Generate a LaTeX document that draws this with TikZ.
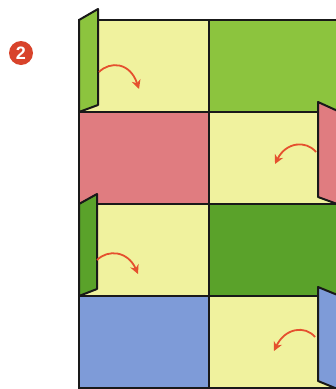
\documentclass[tikz,border=0pt]{standalone}
\usepackage{fontspec}
\setmainfont{Liberation Sans}
\usetikzlibrary{arrows.meta}
\definecolor{cyel}{HTML}{F0F29E}
\definecolor{clime}{HTML}{8CC43E}
\definecolor{cpink}{HTML}{E07C80}
\definecolor{cdgreen}{HTML}{5AA22A}
\definecolor{cblue}{HTML}{7E9BD8}
\definecolor{carrow}{HTML}{E5502E}
\definecolor{cbadge}{HTML}{D8432B}
\tikzset{
  cell/.style={draw=black!90, line width=2pt, line join=round},
  flap/.style={draw=black!90, line width=2pt, line join=round},
  turn/.style={draw=carrow, line width=1.8pt, -{Stealth[length=9pt,width=9pt]}},
  badge/.style={circle, fill=cbadge, text=white, inner sep=0pt, minimum size=24pt, font=\bfseries\fontsize{18}{18}\selectfont}
}
\begin{document}
\begin{tikzpicture}[x=1pt,y=-1pt]
\useasboundingbox (0,0) rectangle (336,389);
\fill[white] (0,0) rectangle (336,389);
% row 1
\fill[cyel] (78,20) rectangle (209,112);
\fill[clime] (209,20) rectangle (340,112);
% row 2
\fill[cpink] (78,112) rectangle (209,204);
\fill[cyel] (209,112) rectangle (340,204);
% row 3
\fill[cyel] (78,204) rectangle (209,296);
\fill[cdgreen] (209,204) rectangle (340,296);
% row 4
\fill[cblue] (78,296) rectangle (209,388);
\fill[cyel] (209,296) rectangle (340,388);
% grid lines
\draw[cell] (78,20) -- (340,20);
\draw[cell] (78,112) -- (340,112);
\draw[cell] (78,204) -- (340,204);
\draw[cell] (78,296) -- (340,296);
\draw[cell] (78,387.5) -- (340,387.5);
\draw[cell] (79,20) -- (79,388);
\draw[cell] (209,20) -- (209,388);
% flaps
\filldraw[flap, fill=clime] (79,20) -- (98,9) -- (98,105) -- (79,112) -- cycle;
\filldraw[flap, fill=cpink] (340,112) -- (318,102) -- (318,197) -- (340,205) -- cycle;
\filldraw[flap, fill=cdgreen] (79,204) -- (97,194) -- (97,289) -- (79,296) -- cycle;
\filldraw[flap, fill=cblue] (340,296) -- (318,287) -- (318,381) -- (340,390) -- cycle;
% arrows
\coordinate (a1s) at (99,72);  \coordinate (a1e) at (139,89);
\coordinate (a2s) at (316,152); \coordinate (a2e) at (275,164);
\coordinate (a3s) at (97,260); \coordinate (a3e) at (138,274);
\coordinate (a4s) at (315,337); \coordinate (a4e) at (274,351);
\draw[turn] (a1s) .. controls (110,61) and (130,62) .. (a1e);
\draw[turn] (a2s) .. controls (306,140) and (286,142) .. (a2e);
\draw[turn] (a3s) .. controls (108,249) and (128,251) .. (a3e);
\draw[turn] (a4s) .. controls (305,325) and (285,328) .. (a4e);
% badge
\node[badge] (badge) at (21,53) {2};
\end{tikzpicture}
\end{document}
